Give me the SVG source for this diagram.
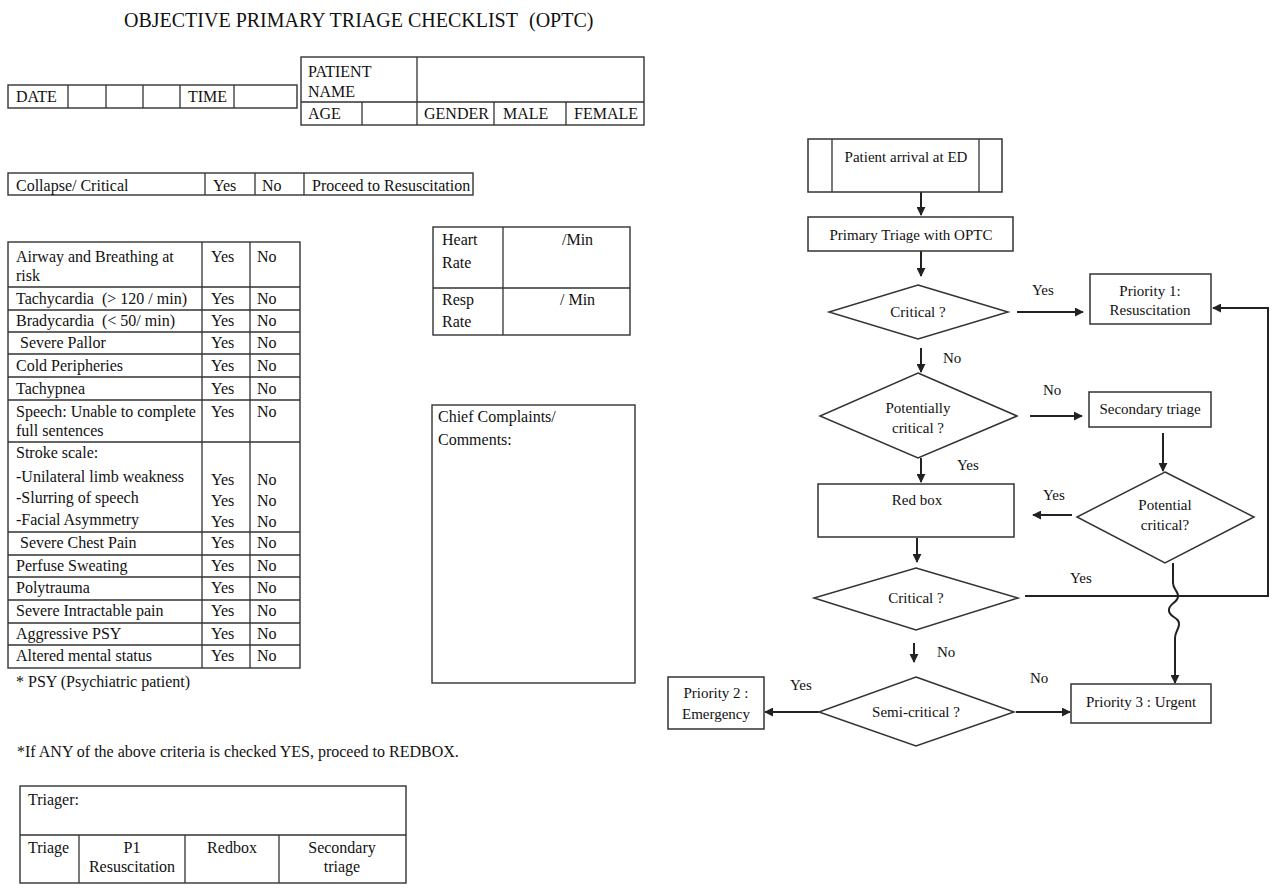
<svg xmlns="http://www.w3.org/2000/svg" width="1276" height="890" viewBox="0 0 1276 890">
<defs>
<style>
text{font-family:"Liberation Serif","Times New Roman",serif;fill:#111;}
.t{font-size:16px;}
.f{font-size:15px;}
.c{text-anchor:middle;}
.tb{fill:none;stroke:#333;stroke-width:1.4;}
.ln{stroke:#333;stroke-width:1.3;fill:none;}
.bx{fill:#fff;stroke:#333;stroke-width:1.5;}
.ar{stroke:#222;stroke-width:2;fill:none;marker-end:url(#ah);}
</style>
<marker id="ah" viewBox="0 0 10 10" refX="9" refY="5" markerWidth="4.5" markerHeight="4.5" orient="auto" markerUnits="strokeWidth">
<path d="M0,0 L10,5 L0,10 z" fill="#222"/>
</marker>
</defs>
<rect width="1276" height="890" fill="#fff"/>

<g id="title">
<text x="124" y="27" style="font-size:20px">OBJECTIVE PRIMARY TRIAGE CHECKLIST</text>
<text x="529" y="27" style="font-size:20px">(OPTC)</text>
</g>

<g id="date-table">
<rect class="tb" x="8" y="85" width="289" height="23"/>
<path class="ln" d="M68,85V108M106,85V108M143,85V108M180,85V108M234,85V108"/>
<text class="t" x="16" y="102">DATE</text>
<text class="t" x="188" y="102">TIME</text>
</g>

<g id="patient-table">
<rect class="tb" x="301" y="57" width="343" height="68"/>
<path class="ln" d="M301,102H644M417,57V125M362,102V125M494,102V125M566,102V125"/>
<text class="t" x="308" y="77">PATIENT</text>
<text class="t" x="308" y="97">NAME</text>
<text class="t" x="308" y="119">AGE</text>
<text class="t" x="424" y="119">GENDER</text>
<text class="t" x="503" y="119">MALE</text>
<text class="t" x="574" y="119">FEMALE</text>
</g>

<g id="collapse-row">
<rect class="tb" x="8" y="173" width="465" height="22"/>
<path class="ln" d="M205,173V195M255,173V195M304,173V195"/>
<text class="t" x="16" y="191">Collapse/ Critical</text>
<text class="t" x="213" y="191">Yes</text>
<text class="t" x="262" y="191">No</text>
<text class="t" x="312" y="191">Proceed to Resuscitation</text>
</g>

<g id="criteria-table">
<rect class="tb" x="8" y="242" width="292" height="426"/>
<path class="ln" d="M202,242V668M250,242V668M8,287H300M8,310H300M8,332H300M8,354H300M8,377H300M8,400H300M8,442H300M8,532H300M8,555H300M8,577H300M8,600H300M8,623H300M8,645H300"/>
<text class="t" x="16" y="262">Airway and Breathing at</text>
<text class="t" x="16" y="281">risk</text>
<text class="t" x="16" y="304">Tachycardia<tspan x="102">(&gt; 120 / min)</tspan></text>
<text class="t" x="16" y="326">Bradycardia<tspan x="102">(&lt; 50/ min)</tspan></text>
<text class="t" x="20" y="348">Severe Pallor</text>
<text class="t" x="16" y="371">Cold Peripheries</text>
<text class="t" x="16" y="394">Tachypnea</text>
<text class="t" x="16" y="417">Speech: Unable to complete</text>
<text class="t" x="16" y="436">full sentences</text>
<text class="t" x="16" y="458">Stroke scale:</text>
<text class="t" x="16" y="482">-Unilateral limb weakness</text>
<text class="t" x="16" y="503">-Slurring of speech</text>
<text class="t" x="16" y="525">-Facial Asymmetry</text>
<text class="t" x="20" y="548">Severe Chest Pain</text>
<text class="t" x="16" y="571">Perfuse Sweating</text>
<text class="t" x="16" y="593">Polytrauma</text>
<text class="t" x="16" y="616">Severe Intractable pain</text>
<text class="t" x="16" y="639">Aggressive PSY</text>
<text class="t" x="16" y="661">Altered mental status</text>
<g>
<text class="t" x="211" y="262">Yes</text><text class="t" x="257" y="262">No</text>
<text class="t" x="211" y="304">Yes</text><text class="t" x="257" y="304">No</text>
<text class="t" x="211" y="326">Yes</text><text class="t" x="257" y="326">No</text>
<text class="t" x="211" y="348">Yes</text><text class="t" x="257" y="348">No</text>
<text class="t" x="211" y="371">Yes</text><text class="t" x="257" y="371">No</text>
<text class="t" x="211" y="394">Yes</text><text class="t" x="257" y="394">No</text>
<text class="t" x="211" y="417">Yes</text><text class="t" x="257" y="417">No</text>
<text class="t" x="211" y="485">Yes</text><text class="t" x="257" y="485">No</text>
<text class="t" x="211" y="506">Yes</text><text class="t" x="257" y="506">No</text>
<text class="t" x="211" y="527">Yes</text><text class="t" x="257" y="527">No</text>
<text class="t" x="211" y="548">Yes</text><text class="t" x="257" y="548">No</text>
<text class="t" x="211" y="571">Yes</text><text class="t" x="257" y="571">No</text>
<text class="t" x="211" y="593">Yes</text><text class="t" x="257" y="593">No</text>
<text class="t" x="211" y="616">Yes</text><text class="t" x="257" y="616">No</text>
<text class="t" x="211" y="639">Yes</text><text class="t" x="257" y="639">No</text>
<text class="t" x="211" y="661">Yes</text><text class="t" x="257" y="661">No</text>
</g>
<text class="t" x="16" y="687">* PSY (Psychiatric patient)</text>
</g>

<g id="vitals-table">
<rect class="tb" x="433" y="227" width="197" height="108"/>
<path class="ln" d="M503,227V335M433,288H630"/>
<text class="t" x="442" y="245">Heart</text>
<text class="t" x="442" y="268">Rate</text>
<text class="t" x="562" y="245">/Min</text>
<text class="t" x="442" y="305">Resp</text>
<text class="t" x="442" y="327">Rate</text>
<text class="t" x="560" y="305">/ Min</text>
</g>

<g id="chief-complaints">
<rect class="tb" x="432" y="405" width="203" height="278"/>
<text class="t" x="438" y="422">Chief Complaints/</text>
<text class="t" x="438" y="445">Comments:</text>
</g>

<g id="note">
<text class="t" x="17" y="757">*If ANY of the above criteria is checked YES, proceed to REDBOX.</text>
</g>

<g id="triager-table">
<rect class="tb" x="20" y="786" width="386" height="97"/>
<path class="ln" d="M20,835H406M79,835V883M185,835V883M279,835V883"/>
<text class="t" x="28" y="805">Triager:</text>
<text class="t" x="28" y="853">Triage</text>
<text class="t c" x="132" y="853">P1</text>
<text class="t c" x="132" y="872">Resuscitation</text>
<text class="t c" x="232" y="853">Redbox</text>
<text class="t c" x="342" y="853">Secondary</text>
<text class="t c" x="342" y="872">triage</text>
</g>

<g id="connectors">
<path class="ar" d="M921,192V215"/>
<path class="ar" d="M921,251V276"/>
<path class="ar" d="M1017,312H1083"/>
<path class="ar" d="M921,348V372"/>
<path class="ar" d="M1030,416H1082"/>
<path class="ar" d="M1163,433V471"/>
<path class="ar" d="M1072,515H1033"/>
<path class="ar" d="M921,458V482"/>
<path class="ar" d="M917,538V562"/>
<path class="ar" d="M1025,596H1268V308H1213"/>
<path class="ar" d="M1173,563V583C1173,590 1179,591 1178,597C1177,603 1168,604 1169,611C1170,618 1180,617 1179,625C1178,631 1175,632 1175,638V683"/>
<path class="ar" d="M914,643V662"/>
<path class="ar" d="M819,712H765"/>
<path class="ar" d="M1016,712H1070"/>
<text class="f" x="1032" y="295">Yes</text>
<text class="f" x="943" y="363">No</text>
<text class="f" x="1043" y="395">No</text>
<text class="f" x="957" y="470">Yes</text>
<text class="f" x="1043" y="500">Yes</text>
<text class="f" x="1070" y="583">Yes</text>
<text class="f" x="937" y="657">No</text>
<text class="f" x="790" y="690">Yes</text>
<text class="f" x="1030" y="683">No</text>
</g>

<g id="n-arrival">
<rect class="bx" x="808" y="139" width="194" height="53"/>
<path class="ln" d="M832,139V192M979,139V192"/>
<text class="f c" x="906" y="162">Patient arrival at ED</text>
</g>
<g id="n-primary">
<rect class="bx" x="808" y="217" width="205" height="34"/>
<text class="f c" x="911" y="240">Primary Triage with OPTC</text>
</g>
<g id="n-critical1">
<polygon class="bx" points="918,285 1008,312 918,339 829,312"/>
<text class="f c" x="918" y="317">Critical ?</text>
</g>
<g id="n-priority1">
<rect class="bx" x="1090" y="274" width="121" height="50"/>
<text class="f c" x="1150" y="296">Priority 1:</text>
<text class="f c" x="1150" y="315">Resuscitation</text>
</g>
<g id="n-potentially">
<polygon class="bx" points="918,373 1017,416 918,458 820,416"/>
<text class="f c" x="918" y="413">Potentially</text>
<text class="f c" x="918" y="433">critical ?</text>
</g>
<g id="n-secondary">
<rect class="bx" x="1089" y="392" width="122" height="35"/>
<text class="f c" x="1150" y="414">Secondary triage</text>
</g>
<g id="n-potential">
<polygon class="bx" points="1165,472 1254,517 1165,563 1077,517"/>
<text class="f c" x="1165" y="510">Potential</text>
<text class="f c" x="1165" y="530">critical?</text>
</g>
<g id="n-redbox">
<rect class="bx" x="818" y="484" width="196" height="53"/>
<text class="f c" x="917" y="505">Red box</text>
</g>
<g id="n-critical2">
<polygon class="bx" points="916,568 1018,598 916,630 814,598"/>
<text class="f c" x="916" y="603">Critical ?</text>
</g>
<g id="n-semicritical">
<polygon class="bx" points="916,677 1014,712 916,746 819,712"/>
<text class="f c" x="916" y="717">Semi-critical ?</text>
</g>
<g id="n-priority2">
<rect class="bx" x="668" y="677" width="96" height="52"/>
<text class="f c" x="716" y="698">Priority 2 :</text>
<text class="f c" x="716" y="719">Emergency</text>
</g>
<g id="n-priority3">
<rect class="bx" x="1071" y="684" width="140" height="39"/>
<text class="f c" x="1141" y="707">Priority 3 : Urgent</text>
</g>
</svg>
